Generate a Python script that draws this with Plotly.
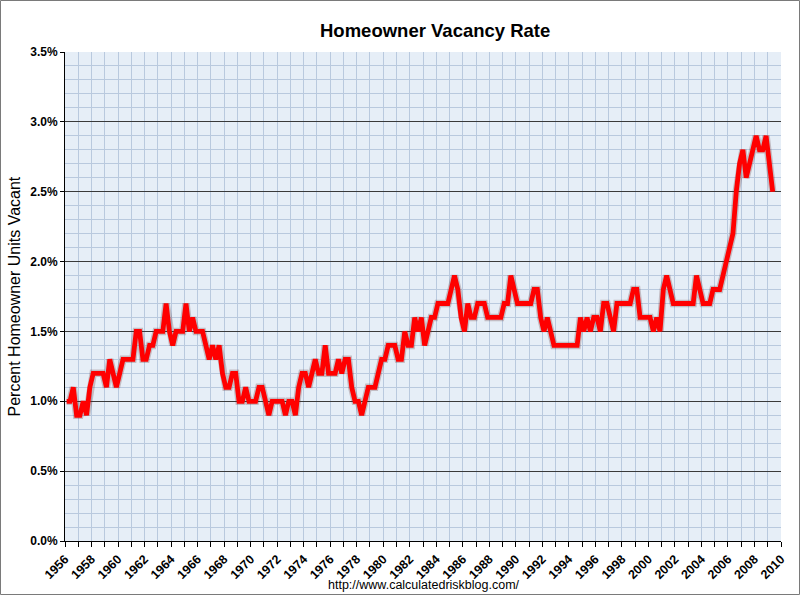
import plotly.graph_objects as go

# Quarterly homeowner vacancy rate (%), 1956 Q1 .. 2009 Q2
start_year = 1956
vacancy_rate = [
    1.0, 1.0, 1.1, 0.9, 0.9, 1.0, 0.9, 1.1, 1.2, 1.2,   # 0-9
    1.2, 1.2, 1.1, 1.3, 1.2, 1.1, 1.2, 1.3, 1.3, 1.3,   # 10-19
    1.3, 1.5, 1.5, 1.3, 1.3, 1.4, 1.4, 1.5, 1.5, 1.5,   # 20-29
    1.7, 1.5, 1.4, 1.5, 1.5, 1.5, 1.7, 1.5, 1.6, 1.5,   # 30-39
    1.5, 1.5, 1.4, 1.3, 1.4, 1.3, 1.4, 1.2, 1.1, 1.1,   # 40-49
    1.2, 1.2, 1.0, 1.0, 1.1, 1.0, 1.0, 1.0, 1.1, 1.1,   # 50-59
    1.0, 0.9, 1.0, 1.0, 1.0, 1.0, 0.9, 1.0, 1.0, 0.9,   # 60-69
    1.1, 1.2, 1.2, 1.1, 1.2, 1.3, 1.2, 1.2, 1.4, 1.2,   # 70-79
    1.2, 1.2, 1.3, 1.2, 1.3, 1.3, 1.1, 1.0, 1.0, 0.9,   # 80-89
    1.0, 1.1, 1.1, 1.1, 1.2, 1.3, 1.3, 1.4, 1.4, 1.4,   # 90-99
    1.3, 1.3, 1.5, 1.4, 1.4, 1.6, 1.5, 1.6, 1.4, 1.5,   # 100-109
    1.6, 1.6, 1.7, 1.7, 1.7, 1.7, 1.8, 1.9, 1.8, 1.6,   # 110-119
    1.5, 1.7, 1.6, 1.6, 1.7, 1.7, 1.7, 1.6, 1.6, 1.6,   # 120-129
    1.6, 1.6, 1.7, 1.7, 1.9, 1.8, 1.7, 1.7, 1.7, 1.7,   # 130-139
    1.7, 1.8, 1.8, 1.6, 1.5, 1.6, 1.5, 1.4, 1.4, 1.4,   # 140-149
    1.4, 1.4, 1.4, 1.4, 1.4, 1.6, 1.5, 1.6, 1.5, 1.6,   # 150-159
    1.6, 1.5, 1.7, 1.7, 1.6, 1.5, 1.7, 1.7, 1.7, 1.7,   # 160-169
    1.7, 1.8, 1.8, 1.6, 1.6, 1.6, 1.6, 1.5, 1.6, 1.5,   # 170-179
    1.8, 1.9, 1.8, 1.7, 1.7, 1.7, 1.7, 1.7, 1.7, 1.7,   # 180-189
    1.9, 1.8, 1.7, 1.7, 1.7, 1.8, 1.8, 1.8, 1.9, 2.0,   # 190-199
    2.1, 2.2, 2.5, 2.7, 2.8, 2.6, 2.7, 2.8, 2.9, 2.8,   # 200-209
    2.8, 2.9, 2.7, 2.5,                                 # 210-213
]
quarter_pos = [start_year + (i + 0.5) / 4 for i in range(len(vacancy_rate))]

title_text = "Homeowner Vacancy Rate"
y_title = "Percent Homeowner Units Vacant"
footer = "http://www.calculatedriskblog.com/"

FONT = "Arial, Liberation Sans, sans-serif"
GRID = "#b9c9de"

fig = go.Figure()
fig.add_trace(go.Scatter(
    x=quarter_pos, y=vacancy_rate, mode="lines",
    line=dict(color="rgba(90,40,40,0.25)", width=7.5),
    hoverinfo="skip", showlegend=False,
))
fig.add_trace(go.Scatter(
    x=quarter_pos, y=vacancy_rate, mode="lines",
    line=dict(color="#ff0000", width=4.8),
    showlegend=False,
))

fig.update_layout(
    width=800, height=595,
    margin=dict(l=65, r=19, t=52, b=54),
    paper_bgcolor="white",
    plot_bgcolor="#e6eef7",
    font=dict(family=FONT, color="black"),
    showlegend=False,
    title=dict(text="<b>" + title_text + "</b>", x=0.517, xref="paper",
               xanchor="center", y=1 - 31 / 595, yref="container",
               yanchor="middle", font=dict(size=18.5, family=FONT, color="black")),
)

fig.update_xaxes(
    range=[1956, 2010], tick0=1956, dtick=2, tickangle=-45,
    ticks="outside", ticklen=5, tickcolor="black",
    tickfont=dict(size=12.5, family=FONT, weight="bold"),
    showline=True, linecolor="black", linewidth=1,
    showgrid=True, gridcolor=GRID, gridwidth=1,
    minor=dict(dtick=1, tick0=1956, ticks="outside", ticklen=5, tickcolor="black",
               showgrid=True, gridcolor=GRID, gridwidth=1),
    zeroline=False, fixedrange=True, automargin=False,
)
fig.update_yaxes(
    range=[0, 3.5], tick0=0, dtick=0.5, tickformat=".1f", ticksuffix="%",
    ticks="outside", ticklen=4, tickcolor="black",
    tickfont=dict(size=12, family=FONT, weight="bold"),
    showline=True, linecolor="black", linewidth=1,
    showgrid=True, gridcolor="#3a3a3a", gridwidth=1,
    minor=dict(dtick=0.1, tick0=0, showgrid=True, gridcolor=GRID, gridwidth=1),
    zeroline=False, fixedrange=True, automargin=False,
)

fig.add_annotation(
    text=y_title, textangle=-90, xref="paper", yref="paper",
    x=(14 - 65) / 716, y=0.5, xanchor="center", yanchor="middle",
    showarrow=False, font=dict(size=16, family=FONT, color="black"),
)
fig.add_annotation(
    text=footer, xref="paper", yref="paper",
    x=0.501, y=-(585 - 541) / 489, xanchor="center", yanchor="middle",
    showarrow=False, font=dict(size=12.5, family=FONT, color="black"),
)
# outer image border
fig.add_shape(type="rect", xref="paper", yref="paper",
              x0=-64.5 / 716, x1=(799.5 - 65) / 716,
              y0=-(594.5 - 541) / 489, y1=1 + 51.5 / 489,
              line=dict(color="#7a7a7a", width=1), layer="above")

fig.write_html("out.html", config={"displayModeBar": False},
               post_script="document.body.style.margin='0px';")
